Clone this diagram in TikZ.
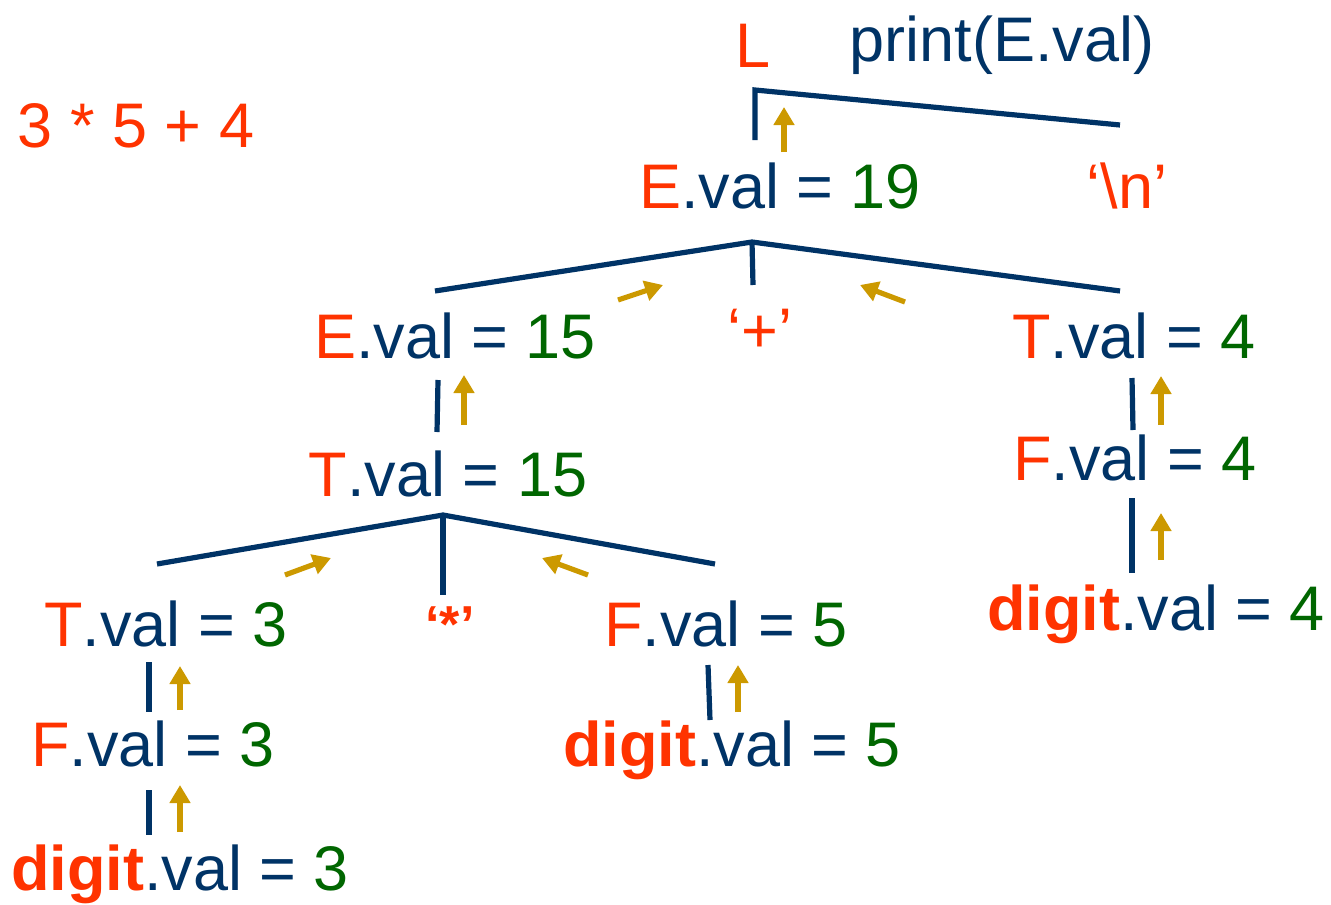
\documentclass[tikz,border=0pt]{standalone}
\usepackage{fontspec}
\setmainfont{Liberation Sans}
\usepackage{tikz}
\usetikzlibrary{arrows.meta}
\definecolor{tok}{HTML}{FF3300}
\definecolor{ink}{HTML}{003366}
\definecolor{num}{HTML}{006600}
\definecolor{flow}{HTML}{CC9900}
\newcommand{\av}[2]{{\color{tok}#1}.val = {\color{num}#2}}
\newcommand{\dv}[1]{{\color{tok}\bfseries digit}.val = {\color{num}#1}}

\begin{document}
\begin{tikzpicture}[x=0.5pt,y=-0.5pt,
   lbl/.style={anchor=base,inner sep=0pt,text=ink,font=\fontsize{31.5}{38}\selectfont},
   edge/.style={ink,line width=2.6pt},
   up/.style={flow,line width=2.6pt,-{Triangle[length=9pt,width=10pt]}}]
  \useasboundingbox (0,0) rectangle (1331,904);
  % labels
  \node[lbl,text=tok] (inp) at (136,148) {3 * 5 + 4};
  \node[lbl,text=tok] (L) at (753,68) {L};
  \node[lbl] (prt) at (1002,62) {print(E.val)};
  \node[lbl] (e19) at (780,208) {\av{E}{19}};
  \node[lbl,text=tok] (nl) at (1127,208) {‘\textbackslash n’};
  \node[lbl] (e15) at (455,358) {\av{E}{15}};
  \node[lbl,text=tok] (plus) at (760,352) {‘+’};
  \node[lbl] (t4) at (1134,358) {\av{T}{4}};
  \node[lbl] (t15) at (448,496) {\av{T}{15}};
  \node[lbl] (f4) at (1135,480) {\av{F}{4}};
  \node[lbl] (d4) at (1156,630) {\dv{4}};
  \node[lbl] (t3) at (166,646) {\av{T}{3}};
  \node[lbl,text=tok,font=\fontsize{26}{30}\selectfont\bfseries] (star) at (450,642) {‘*’};
  \node[lbl] (f5) at (726,646) {\av{F}{5}};
  \node[lbl] (f3) at (153,766) {\av{F}{3}};
  \node[lbl] (d5) at (732,766) {\dv{5}};
  \node[lbl] (d3) at (180,890) {\dv{3}};
  % tree edges
  \coordinate (jL) at (755,90);   \coordinate (jLa) at (755,140); \coordinate (jLb) at (1120,125);
  \coordinate (j19) at (752,242); \coordinate (j19a) at (435,291); \coordinate (j19b) at (753,285); \coordinate (j19c) at (1120,291);
  \coordinate (j15) at (443,515); \coordinate (j15a) at (157,564); \coordinate (j15b) at (443,595); \coordinate (j15c) at (715,564);
  \draw[edge,line join=miter] (jLa) -- (jL) -- (jLb);
  \draw[edge] (j19a) -- (j19) -- (j19c);
  \draw[edge] (j19) -- (j19b);
  \draw[edge] (j15a) -- (j15) -- (j15c);
  \draw[edge] (j15) -- (j15b);
  \foreach \a/\b in {438/380, 149/662, 149/790, 708/665, 1132/378, 1132/498}{
    \coordinate (s\a\b) at (\a,\b);}
  \coordinate (e1) at (437,432);  \coordinate (e2) at (149,712); \coordinate (e3) at (149,835);
  \coordinate (e4) at (710,720);  \coordinate (e5) at (1133,430); \coordinate (e6) at (1132,573);
  \draw[edge] (s438380) -- (e1);
  \draw[edge] (s149662) -- (e2);
  \draw[edge] (s149790) -- (e3);
  \draw[edge] (s708665) -- (e4);
  \draw[edge] (s1132378) -- (e5);
  \draw[edge] (s1132498) -- (e6);
  % synthesized values flow up
  \draw[up] (784,152) -- (784,107);
  \draw[up] (618,300) -- (663,285);
  \draw[up] (905,302) -- (860,285);
  \draw[up] (464,425) -- (464,375);
  \draw[up] (285,575) -- (331,558);
  \draw[up] (588,575) -- (542,558);
  \draw[up] (1161,425) -- (1161,376);
  \draw[up] (1161,560) -- (1161,513);
  \draw[up] (180,710) -- (180,666);
  \draw[up] (180,832) -- (180,785);
  \draw[up] (738,712) -- (738,665);
\end{tikzpicture}
\end{document}
